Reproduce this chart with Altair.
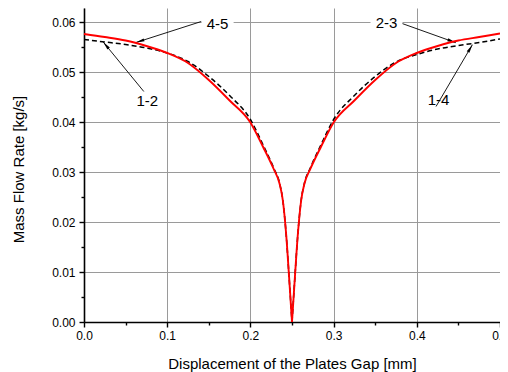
import math
import altair as alt
import pandas as pd

# ---- data ----
# left branch (gap displacement 0 -> 0.25 mm)
x_left = [0.0, 0.025, 0.05, 0.075, 0.1, 0.125, 0.15, 0.175, 0.2, 0.215, 0.228,
          0.235, 0.239, 0.243, 0.2465, 0.25]
red_left = [0.0576, 0.0570, 0.0563, 0.0552, 0.0538, 0.0518, 0.0484, 0.0443, 0.0399,
            0.0351, 0.0306, 0.0277, 0.0243, 0.0175, 0.0090, 0.0]
dash_left = [0.0565, 0.0560, 0.0555, 0.0548, 0.0538, 0.0521, 0.0491, 0.0453, 0.0405,
             0.0355, 0.0308, 0.0278, 0.0243, 0.0175, 0.0090, 0.0]
# right branch (0.25 -> 0.5 mm)
x_right = [0.25, 0.2535, 0.257, 0.261, 0.265, 0.272, 0.285, 0.3, 0.325, 0.35, 0.375,
           0.4, 0.425, 0.45, 0.475, 0.5]
red_right = [0.0, 0.0090, 0.0175, 0.0243, 0.0277, 0.0306, 0.0351, 0.0399, 0.0443,
             0.0484, 0.0518, 0.0538, 0.0552, 0.0563, 0.0570, 0.0577]
dash_right = [0.0, 0.0090, 0.0175, 0.0243, 0.0278, 0.0308, 0.0355, 0.0405, 0.0453,
              0.0491, 0.0520, 0.0535, 0.0546, 0.0553, 0.0559, 0.0566]

x_ticks = [0.0, 0.1, 0.2, 0.3, 0.4, 0.5]
x_minor = [0.05, 0.15, 0.25, 0.35, 0.45]
y_ticks = [0.0, 0.01, 0.02, 0.03, 0.04, 0.05, 0.06]
y_minor = [0.005, 0.015, 0.025, 0.035, 0.045, 0.055]

ann_labels = ["4-5", "1-2", "2-3", "1-4"]
ann_text_x = [0.1606, 0.0761, 0.3636, 0.4261]
ann_text_y = [0.0596, 0.0443, 0.0599, 0.0445]
ann_x1 = [0.1410, 0.0719, 0.3723, 0.4231]
ann_y1 = [0.0601, 0.0461, 0.0603, 0.0431]
ann_x2 = [0.0624, 0.0231, 0.4469, 0.4668]
ann_y2 = [0.0559, 0.0560, 0.05586, 0.05546]
ann_boxed = [True, False, True, False]

W, H = 416, 314
X_DOM = [0, 0.5]
Y_DOM = [0, 0.0628]
px_x = W / (X_DOM[1] - X_DOM[0])
px_y = H / (Y_DOM[1] - Y_DOM[0])

df = pd.concat([
    pd.DataFrame({"x": x_left, "red": red_left, "dash": dash_left, "branch": "left"}),
    pd.DataFrame({"x": x_right, "red": red_right, "dash": dash_right, "branch": "right"}),
], ignore_index=True)

angles = []
for a, b, c, d in zip(ann_x1, ann_y1, ann_x2, ann_y2):
    dx = (c - a) * px_x
    dy = -(d - b) * px_y
    angles.append(math.degrees(math.atan2(dx, -dy)) % 360)

ann = pd.DataFrame({"label": ann_labels, "tx": ann_text_x, "ty": ann_text_y,
                    "x1": ann_x1, "y1": ann_y1, "x2": ann_x2, "y2": ann_y2,
                    "angle": angles, "boxed": ann_boxed})

font = "Liberation Sans"

xs = alt.Scale(domain=X_DOM, nice=False, zero=False)
ys = alt.Scale(domain=Y_DOM, nice=False, zero=False)

x_axis = alt.Axis(values=x_ticks, format=".1f", title="Displacement of the Plates Gap [mm]",
                  grid=True, gridColor="#9a9a9a", gridWidth=1,
                  domainColor="black", domainWidth=1.6, tickColor="black", tickWidth=1.4,
                  tickSize=5, labelFontSize=12, labelColor="black", labelPadding=3,
                  labelFlush=False, titleFontSize=15, titleFontWeight="normal",
                  titleColor="black", titleY=46, titleBaseline="alphabetic", orient="bottom")
y_axis = alt.Axis(values=y_ticks, format=".2f", title="Mass Flow Rate [kg/s]",
                  grid=True, gridColor="#9a9a9a", gridWidth=1,
                  domainColor="black", domainWidth=1.6, tickColor="black", tickWidth=1.4,
                  tickSize=5, labelFontSize=12, labelColor="black", labelPadding=4,
                  titleFontSize=15, titleFontWeight="normal", titleColor="black",
                  titleX=-61, titleY=161, titleAngle=270, titleBaseline="alphabetic",
                  titleAlign="center", orient="left")
x_axis_minor = alt.Axis(values=x_minor, labels=False, title=None, grid=False, domain=False,
                        tickColor="black", tickWidth=1.4, tickSize=3, orient="bottom")
y_axis_minor = alt.Axis(values=y_minor, labels=False, title=None, grid=False, domain=False,
                        tickColor="black", tickWidth=1.4, tickSize=3, orient="left")

dash_line = alt.Chart(df).mark_line(color="black", strokeWidth=1.5, strokeDash=[5, 3],
                                    interpolate="monotone").encode(
    x=alt.X("x:Q", scale=xs, axis=x_axis_minor),
    y=alt.Y("dash:Q", scale=ys, axis=y_axis_minor),
    detail="branch:N",
)
red_line = alt.Chart(df).mark_line(color="#ff0000", strokeWidth=1.9,
                                   interpolate="monotone").encode(
    x=alt.X("x:Q", scale=xs, axis=x_axis),
    y=alt.Y("red:Q", scale=ys, axis=y_axis),
    detail="branch:N",
)

arrows = alt.Chart(ann).mark_rule(color="black", strokeWidth=0.9).encode(
    x=alt.X("x1:Q", scale=xs, axis=None), y=alt.Y("y1:Q", scale=ys, axis=None),
    x2="x2:Q", y2="y2:Q")
heads = alt.Chart(ann).mark_point(shape="M0,0L0.4,2.2L-0.4,2.2Z", filled=True, color="black",
                                  size=60, opacity=1, strokeWidth=0).encode(
    x=alt.X("x2:Q", scale=xs, axis=None), y=alt.Y("y2:Q", scale=ys, axis=None),
    angle=alt.Angle("angle:Q", scale=None))
boxes = alt.Chart(ann).transform_filter("datum.boxed").mark_rect(
    color="white", width=32, height=14).encode(
    x=alt.X("tx:Q", scale=xs, axis=None), y=alt.Y("ty:Q", scale=ys, axis=None))
texts = alt.Chart(ann).mark_text(font=font, fontSize=15, color="black", align="center",
                                 baseline="middle").encode(
    x=alt.X("tx:Q", scale=xs, axis=None), y=alt.Y("ty:Q", scale=ys, axis=None),
    text="label:N")

chart = alt.layer(dash_line, arrows, heads, boxes, texts, red_line).resolve_axis(
    x="independent", y="independent").properties(
    width=W, height=H,
    autosize=alt.AutoSizeParams(type="none"),
    padding={"left": 76, "top": 0, "right": 0, "bottom": 50},
).configure(font=font).configure_view(stroke=None)

chart.save("out.html", embed_options={"renderer": "svg", "actions": False})
